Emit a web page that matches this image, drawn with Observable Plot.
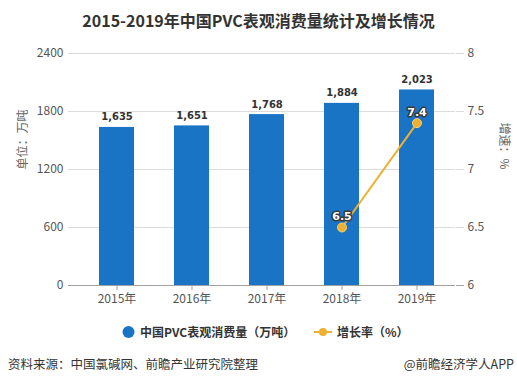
<!DOCTYPE html>
<html>
<head>
<meta charset="utf-8">
<script src="https://cdn.jsdelivr.net/npm/d3@7"></script>
<script src="https://cdn.jsdelivr.net/npm/@observablehq/plot@0.6"></script>
<style>
  html, body { margin: 0; padding: 0; background: #fff; }
  body { width: 517px; height: 385px; position: relative; overflow: hidden;
         font-family: "Noto Sans CJK SC", "Noto Sans", sans-serif; }
  #title { position: absolute; left: 0; top: 0; width: 517px; height: 40px; line-height: 40px;
           text-align: center; font-size: 16px; font-weight: bold; color: #333; }
  #chart { position: absolute; left: 0; top: 40px; }
  .leg { position: absolute; top: 322px; height: 20px; line-height: 20px; font-size: 12px;
         font-weight: bold; color: #333; white-space: nowrap; }
  .src { position: absolute; top: 354px; height: 20px; line-height: 20px; font-size: 12.5px;
         color: #333; white-space: nowrap; }
</style>
</head>
<body>
<div id="title">2015-2019年中国PVC表观消费量统计及增长情况</div>
<div id="chart"></div>
<div id="legend"></div>
<div class="src" style="left:8px">资料来源：中国氯碱网、前瞻产业研究院整理</div>
<div class="src" style="right:3px">@前瞻经济学人APP</div>
<script>
const years = ["2015年", "2016年", "2017年", "2018年", "2019年"];
const consumption = [1635, 1651, 1768, 1884, 2023];
const growthYears = ["2018年", "2019年"];
const growthRate = [6.5, 7.4];
const leftTicks = [0, 600, 1200, 1800, 2400];
const rightTicks = [6, 6.5, 7, 7.5, 8];
const seriesNames = ["中国PVC表观消费量（万吨）", "增长率（%）"];
const leftTitle = "单位：万吨";
const rightTitle = "增速：%";

const barColor = "#1a74c6";
const lineColor = "#eeb030";

const leftMax = leftTicks[leftTicks.length - 1];
const rMin = rightTicks[0], rMax = rightTicks[rightTicks.length - 1];
const toLeft = v => (v - rMin) / (rMax - rMin) * leftMax;

const bars = years.map((y, i) => ({year: y, value: consumption[i]}));
const growth = growthYears.map((y, i) => ({year: y, value: growthRate[i]}));

const chart = Plot.plot({
  width: 517,
  height: 275,
  marginTop: 13,
  marginBottom: 30,
  marginLeft: 78,
  marginRight: 62,
  style: {fontFamily: "'Noto Sans CJK SC', sans-serif", fontSize: "12px", color: "#555", background: "transparent"},
  x: {domain: years, paddingInner: 0.53, paddingOuter: 0.265},
  y: {domain: [0, leftMax]},
  marks: [
    Plot.gridY(leftTicks.slice(1), {stroke: "#dcdcdc", strokeOpacity: 1}),
    Plot.axisY(leftTicks, {anchor: "left", tickSize: 10, tickPadding: 5, stroke: "#dcdcdc", fill: "#555", label: null, fontSize: 12,
      tickFormat: d => String(d)}),
    Plot.axisY(leftTicks, {anchor: "right", tickSize: 8, tickPadding: 4, stroke: "#dcdcdc", fill: "#555", label: null, fontSize: 12,
      tickFormat: d => String(rMin + d / leftMax * (rMax - rMin))}),
    Plot.axisY([0], {anchor: "left", tickSize: 10, stroke: "#a0a0a0", text: null, label: null}),
    Plot.axisY([0], {anchor: "right", tickSize: 8, stroke: "#a0a0a0", text: null, label: null}),
    Plot.barY(bars, {x: "year", y: "value", fill: barColor}),
    Plot.ruleY([0], {stroke: "#a0a0a0"}),
    Plot.axisX({tickSize: 5, tickPadding: 4, stroke: "#a0a0a0", fill: "#555", label: null, fontSize: 12}),
    Plot.text(bars, {x: "year", y: "value", text: d => d3.format(",")(d.value), lineAnchor: "bottom", dy: -7,
      fontFamily: "DejaVu Sans", fontWeight: "bold", fontSize: 10, fill: "#333"}),
    Plot.line(growth, {x: "year", y: d => toLeft(d.value), stroke: lineColor, strokeWidth: 2}),
    Plot.dot(growth, {x: "year", y: d => toLeft(d.value), r: 4.5, fill: lineColor, stroke: "#f5cf7a", strokeWidth: 1}),
    Plot.text(growth, {x: "year", y: d => toLeft(d.value), text: d => String(d.value), dy: -11,
      fontFamily: "DejaVu Sans", fontWeight: "bold", fontSize: 11, fill: "white", stroke: "#3a3a3a", strokeWidth: 3}),
    Plot.text([leftTitle], {frameAnchor: "left", dx: -55, rotate: -90, text: d => d, fill: "#666", fontSize: 12}),
    Plot.text([rightTitle], {frameAnchor: "right", dx: 48, rotate: 90, text: d => d, fill: "#666", fontSize: 12})
  ]
});
document.getElementById("chart").appendChild(chart);

const legend = document.getElementById("legend");
legend.innerHTML =
  `<div class="leg" style="left:122px"><svg width="14" height="20" style="vertical-align:top"><circle cx="6.5" cy="10" r="6" fill="${barColor}"/></svg></div>` +
  `<div class="leg" style="left:140px">${seriesNames[0]}</div>` +
  `<div class="leg" style="left:314px"><svg width="20" height="20" style="vertical-align:top"><line x1="0" y1="10" x2="18" y2="10" stroke="${lineColor}" stroke-width="2"/><circle cx="9" cy="10" r="4" fill="${lineColor}"/></svg></div>` +
  `<div class="leg" style="left:337px">${seriesNames[1]}</div>`;
</script>
</body>
</html>
